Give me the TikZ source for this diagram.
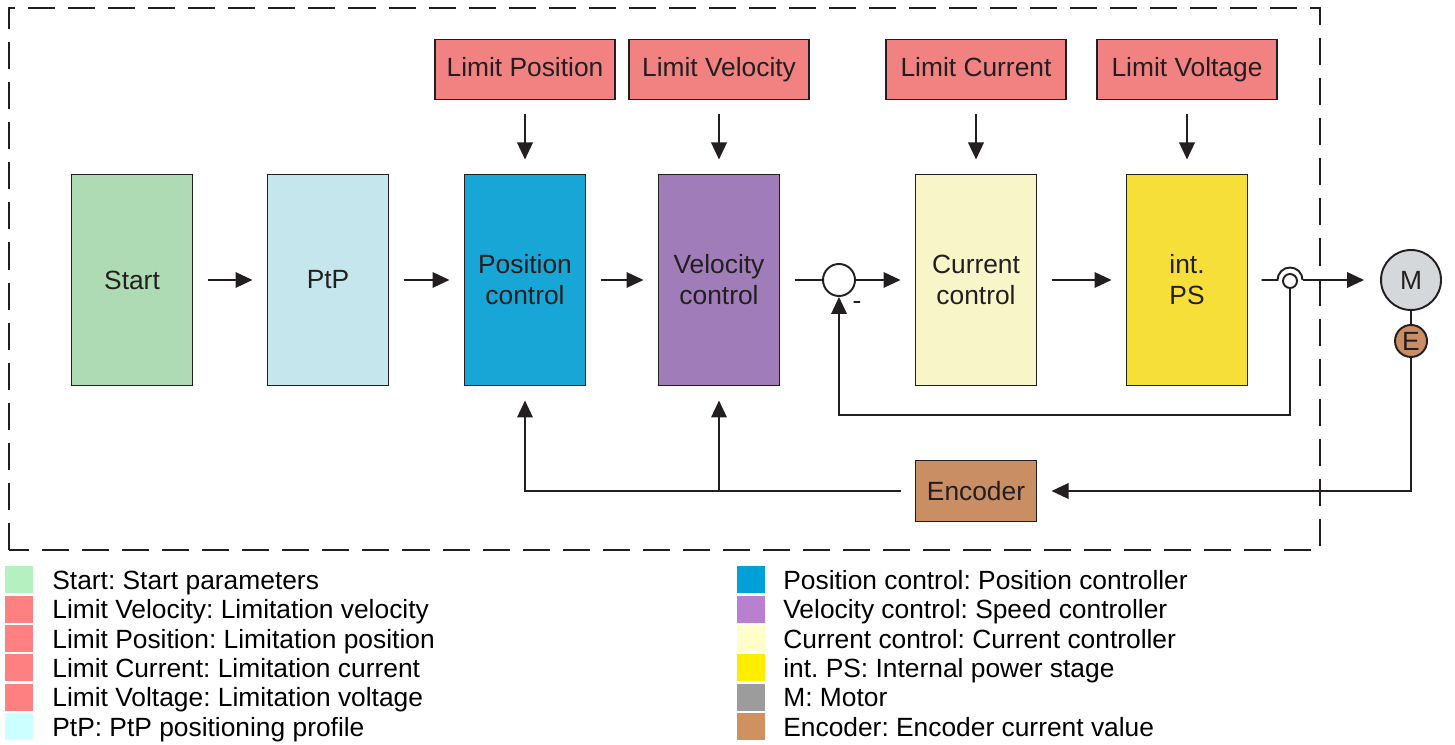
\documentclass[tikz,border=0pt]{standalone}
\usepackage{fontspec}
\setmainfont{Liberation Sans}
\usepackage{tikz}
\usetikzlibrary{arrows.meta, positioning}
\definecolor{ink}{HTML}{231F20}
\definecolor{startgreen}{HTML}{AEDBB3}
\definecolor{ptpblue}{HTML}{C5E6EC}
\definecolor{posblue}{HTML}{17A6D5}
\definecolor{velviolet}{HTML}{A07DB8}
\definecolor{curyellow}{HTML}{F8F5C8}
\definecolor{psyellow}{HTML}{F7DF3A}
\definecolor{limitred}{HTML}{F28282}
\definecolor{motorgrey}{HTML}{D4D8DA}
\definecolor{encbrown}{HTML}{C98E63}
\definecolor{keygreen}{HTML}{B4F0C0}
\definecolor{keyred}{HTML}{FF8080}
\definecolor{keycyan}{HTML}{CCFFFF}
\definecolor{keyblue}{HTML}{00A0D8}
\definecolor{keyviolet}{HTML}{B880D0}
\definecolor{keycream}{HTML}{FFFFCC}
\definecolor{keyyellow}{HTML}{FFEE00}
\definecolor{keygrey}{HTML}{9C9C9C}
\definecolor{keybrown}{HTML}{D09060}
\frenchspacing

\begin{document}
\begin{tikzpicture}[
  font=\fontsize{15pt}{17.6pt}\selectfont,
  block/.style={draw=ink, line width=1.1pt, minimum width=2.42cm,
    minimum height=4.22cm, align=center, text=ink, inner sep=0pt, outer sep=0pt},
  limit/.style={draw=ink, line width=1.1pt, fill=limitred, minimum width=3.6cm,
    minimum height=1.2cm, text=ink, inner sep=0pt, outer sep=0pt,
    text height=11pt, text depth=3.5pt},
  joint/.style={circle, draw=ink, line width=1.1pt, fill=white, inner sep=0pt},
  arrow/.style={-{Triangle[length=3.4mm, width=3.1mm]}, line width=1.1pt, ink},
  wire/.style={line width=1.1pt, ink},
  gap/.style={shorten <=0.3cm, shorten >=0.3cm},
  border/.style={line width=1.1pt, ink, dash pattern=on 15.4pt off 7.4pt},
  key/.style={minimum width=0.56cm, minimum height=0.54cm, inner sep=0pt, outer sep=0pt},
  keytext/.style={inner sep=0pt, text=black, text height=14.4pt, text depth=3.5pt}
]
\useasboundingbox (0,0) rectangle (29.1,14.9);
\draw[border] (0.18,3.90) rectangle (26.40,14.74);

\node[block, fill=startgreen] (start) at (2.64,9.30) {Start};
\node[block, fill=ptpblue, right=1.5cm of start] (ptp) {PtP};
\node[block, fill=posblue, right=1.52cm of ptp] (pos) {Position\\control};
\node[block, fill=velviolet, right=1.46cm of pos] (vel) {Velocity\\control};
\node[block, fill=curyellow, right=2.72cm of vel] (cur) {Current\\control};
\node[block, fill=psyellow, right=1.8cm of cur] (ps) {int.\\PS};

\node[limit, above=1.5cm of pos] (limpos) {Limit Position};
\node[limit, above=1.5cm of vel] (limvel) {Limit Velocity};
\node[limit, above=1.5cm of cur] (limcur) {Limit Current};
\node[limit, above=1.5cm of ps] (limvolt) {Limit Voltage};

\node[block, fill=encbrown, minimum height=1.22cm, below=1.5cm of cur] (enc) {Encoder};

\node[joint, minimum size=0.64cm] (sum) at (16.78,9.30) {};
\node[text=ink] (minus) at (17.14,8.80) {-};
\node[joint, minimum size=0.28cm] (sw) at (25.80,9.28) {};
\coordinate (hl) at (25.55,9.30);
\coordinate (hr) at (26.05,9.30);
\coordinate (fb) at (16.78,6.60);

\node[joint, fill=motorgrey, minimum size=1.2cm, text=ink] (motor) at (28.22,9.30) {M};
\node[joint, fill=encbrown, minimum size=0.64cm, text=ink] (enccirc) at (28.22,8.08) {E};

\draw[arrow, gap] (start) -- (ptp);
\draw[arrow, gap] (ptp) -- (pos);
\draw[arrow, gap] (pos) -- (vel);
\draw[wire, shorten <=0.3cm] (vel) -- (sum);
\draw[arrow, shorten >=0.3cm] (sum) -- (cur);
\draw[arrow, gap] (cur) -- (ps);
\draw[wire, shorten <=0.28cm] (ps.east) -- (hl) arc[start angle=180, end angle=0, radius=0.25cm];
\draw[arrow, shorten >=0.32cm] (hr) -- (motor);

\draw[arrow, gap] (limpos) -- (pos);
\draw[arrow, gap] (limvel) -- (vel);
\draw[arrow, gap] (limcur) -- (cur);
\draw[arrow, gap] (limvolt) -- (ps);

\draw[arrow] (sw.south) |- (fb) -- (sum.south);
\draw[wire] (motor) -- (enccirc);
\draw[arrow, shorten >=0.3cm] (enccirc.south) |- (enc.east);
\draw[arrow, gap] (enc.west) -| (pos.south);
\draw[arrow, shorten >=0.3cm] (vel.south |- enc.west) -- (vel.south);

\node[key, fill=keygreen] (keystart) at (0.38,3.30) {};
\node[key, fill=keyred, below=0.046cm of keystart] (keylimvel) {};
\node[key, fill=keyred, below=0.046cm of keylimvel] (keylimpos) {};
\node[key, fill=keyred, below=0.046cm of keylimpos] (keylimcur) {};
\node[key, fill=keyred, below=0.046cm of keylimcur] (keylimvolt) {};
\node[key, fill=keycyan, below=0.046cm of keylimvolt] (keyptp) {};
\node[keytext, right=0.38cm of keystart] (txtstart) {Start: Start parameters};
\node[keytext, right=0.38cm of keylimvel] (txtlimvel) {Limit Velocity: Limitation velocity};
\node[keytext, right=0.38cm of keylimpos] (txtlimpos) {Limit Position: Limitation position};
\node[keytext, right=0.38cm of keylimcur] (txtlimcur) {Limit Current: Limitation current};
\node[keytext, right=0.38cm of keylimvolt] (txtlimvolt) {Limit Voltage: Limitation voltage};
\node[keytext, right=0.38cm of keyptp] (txtptp) {PtP: PtP positioning profile};

\node[key, fill=keyblue] (keypos) at (15.02,3.30) {};
\node[key, fill=keyviolet, below=0.046cm of keypos] (keyvel) {};
\node[key, fill=keycream, below=0.046cm of keyvel] (keycur) {};
\node[key, fill=keyyellow, below=0.046cm of keycur] (keyps) {};
\node[key, fill=keygrey, below=0.046cm of keyps] (keymotor) {};
\node[key, fill=keybrown, below=0.046cm of keymotor] (keyenc) {};
\node[keytext, right=0.36cm of keypos] (txtpos) {Position control: Position controller};
\node[keytext, right=0.36cm of keyvel] (txtvel) {Velocity control: Speed controller};
\node[keytext, right=0.36cm of keycur] (txtcur) {Current control: Current controller};
\node[keytext, right=0.36cm of keyps] (txtps) {int. PS: Internal power stage};
\node[keytext, right=0.36cm of keymotor] (txtmotor) {M: Motor};
\node[keytext, right=0.36cm of keyenc] (txtenc) {Encoder: Encoder current value};
\end{tikzpicture}
\end{document}
